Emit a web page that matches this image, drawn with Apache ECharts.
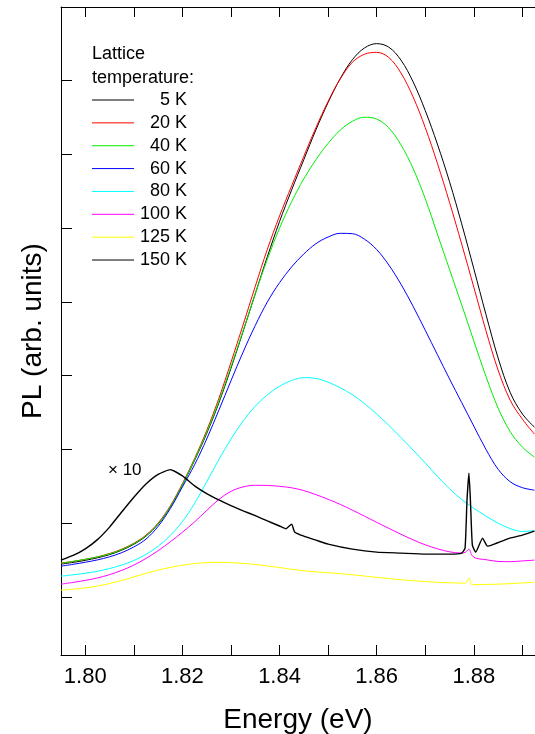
<!DOCTYPE html>
<html>
<head>
<meta charset="utf-8">
<script src="https://cdn.jsdelivr.net/npm/echarts@6/dist/echarts.min.js"></script>
<style>
  html, body { margin: 0; padding: 0; background: #ffffff; }
  #chart { width: 535px; height: 734px; }
</style>
</head>
<body>
<div id="chart"></div>
<script>
// Photoluminescence spectra at several lattice temperatures (arbitrary units)

const FONT = '"Liberation Sans", Arial, Helvetica, sans-serif';

// Shared energy grid (eV) for the 5 K - 80 K spectra, 2.5 meV steps
const energy = [1.7950, 1.7975, 1.8000, 1.8025, 1.8050, 1.8075, 1.8100, 1.8125, 1.8150, 1.8175,
                1.8200, 1.8225, 1.8250, 1.8275, 1.8300, 1.8325, 1.8350, 1.8375, 1.8400, 1.8425,
                1.8450, 1.8475, 1.8500, 1.8525, 1.8550, 1.8575, 1.8600, 1.8625, 1.8650, 1.8675,
                1.8700, 1.8725, 1.8750, 1.8775, 1.8800, 1.8825, 1.8850, 1.8875, 1.8900, 1.8925];

const pl5K  = [0.442, 0.466, 0.494, 0.528, 0.572, 0.632, 0.712, 0.822, 0.985, 1.215,
               1.515, 1.850, 2.215, 2.630, 3.100, 3.600, 4.110, 4.615, 5.090, 5.520,
               5.930, 6.335, 6.705, 7.030, 7.285, 7.445, 7.503, 7.455, 7.280, 6.985,
               6.595, 6.140, 5.630, 5.060, 4.450, 3.830, 3.240, 2.770, 2.480, 2.300];
const pl20K = [0.456, 0.480, 0.508, 0.542, 0.586, 0.646, 0.726, 0.836, 1.000, 1.232,
               1.535, 1.875, 2.255, 2.690, 3.180, 3.690, 4.210, 4.715, 5.165, 5.575,
               5.975, 6.365, 6.720, 7.025, 7.250, 7.360, 7.385, 7.315, 7.105, 6.780,
               6.365, 5.880, 5.350, 4.785, 4.200, 3.610, 3.075, 2.665, 2.410, 2.206];
const pl40K = [0.456, 0.480, 0.508, 0.540, 0.582, 0.640, 0.720, 0.828, 0.990, 1.220,
               1.520, 1.860, 2.230, 2.650, 3.120, 3.610, 4.110, 4.580, 5.000, 5.360,
               5.670, 5.930, 6.150, 6.330, 6.450, 6.505, 6.480, 6.360, 6.130, 5.810,
               5.400, 4.920, 4.440, 3.960, 3.470, 2.990, 2.560, 2.240, 2.030, 1.894];
const pl60K = [0.415, 0.440, 0.468, 0.500, 0.542, 0.598, 0.676, 0.782, 0.955, 1.195,
               1.490, 1.790, 2.140, 2.530, 2.930, 3.320, 3.680, 4.000, 4.260, 4.475,
               4.650, 4.790, 4.880, 4.930, 4.925, 4.850, 4.710, 4.500, 4.240, 3.940,
               3.615, 3.285, 2.955, 2.635, 2.315, 2.000, 1.730, 1.560, 1.480, 1.446];
const pl80K = [0.280, 0.298, 0.319, 0.346, 0.383, 0.430, 0.492, 0.575, 0.685, 0.830,
               1.020, 1.265, 1.560, 1.860, 2.140, 2.385, 2.585, 2.740, 2.855, 2.935,
               2.972, 2.962, 2.910, 2.835, 2.740, 2.620, 2.480, 2.325, 2.160, 1.990,
               1.815, 1.635, 1.465, 1.320, 1.200, 1.095, 0.998, 0.925, 0.885, 0.900];

// 100 K and 125 K: extra samples around the narrow line near 1.879 eV
const energyHi = [1.7950, 1.7975, 1.8000, 1.8025, 1.8050, 1.8075, 1.8100, 1.8125, 1.8150, 1.8175,
                  1.8200, 1.8225, 1.8250, 1.8275, 1.8300, 1.8325, 1.8350, 1.8375, 1.8400, 1.8425,
                  1.8450, 1.8475, 1.8500, 1.8525, 1.8550, 1.8575, 1.8600, 1.8625, 1.8650, 1.8675,
                  1.8700, 1.8725, 1.8750, 1.8775, 1.8783, 1.8790, 1.8796, 1.8804, 1.8825, 1.8850,
                  1.8875, 1.8900, 1.8925];
const pl100K = [0.171, 0.195, 0.222, 0.255, 0.300, 0.358, 0.430, 0.520, 0.625, 0.745,
                0.875, 1.015, 1.170, 1.320, 1.430, 1.490, 1.512, 1.510, 1.498, 1.478,
                1.440, 1.385, 1.322, 1.253, 1.175, 1.093, 1.010, 0.928, 0.848, 0.772,
                0.705, 0.650, 0.610, 0.592, 0.605, 0.646, 0.564, 0.524, 0.503, 0.479,
                0.476, 0.486, 0.497];
const pl125K = [0.090, 0.103, 0.120, 0.145, 0.180, 0.222, 0.268, 0.318, 0.362, 0.398,
                0.428, 0.450, 0.463, 0.467, 0.463, 0.453, 0.438, 0.418, 0.396, 0.373,
                0.353, 0.338, 0.326, 0.313, 0.298, 0.281, 0.264, 0.247, 0.231, 0.218,
                0.206, 0.196, 0.189, 0.185, 0.185, 0.252, 0.164, 0.164, 0.167, 0.171,
                0.178, 0.187, 0.198];

// 150 K spectrum (shown multiplied by 10)
const energy150 = [1.7950, 1.7975, 1.8000, 1.8025, 1.8050, 1.8075, 1.8100, 1.8125, 1.8150, 1.8175,
                   1.8200, 1.8225, 1.8250, 1.8275, 1.8300, 1.8325, 1.8350, 1.8375, 1.8400, 1.8413,
                   1.8425, 1.8431, 1.8450, 1.8475, 1.8500, 1.8550, 1.8600, 1.8650, 1.8700, 1.8750,
                   1.8775, 1.8782, 1.8786, 1.8790, 1.8793, 1.8797, 1.8804, 1.8818, 1.8828, 1.8837,
                   1.8874, 1.8900, 1.8925];
const pl150K = [0.497, 0.560, 0.650, 0.775, 0.945, 1.150, 1.350, 1.530, 1.660, 1.725,
                1.640, 1.505, 1.400, 1.313, 1.235, 1.165, 1.100, 1.028, 0.960, 0.922,
                0.985, 0.880, 0.822, 0.768, 0.714, 0.646, 0.605, 0.592, 0.578, 0.578,
                0.592, 0.659, 1.311, 1.677, 1.311, 0.700, 0.605, 0.795, 0.687, 0.700,
                0.795, 0.836, 0.890];

const temperatures = ['5 K', '20 K', '40 K', '60 K', '80 K', '100 K', '125 K', '150 K'];
const lineColors = ['#000000', '#ff0000', '#00ee00', '#0000ff', '#00ffff', '#ff00ff', '#ffff00', '#000000'];
const xSeries = [energy, energy, energy, energy, energy, energyHi, energyHi, energy150];
const ySeries = [pl5K, pl20K, pl40K, pl60K, pl80K, pl100K, pl125K, pl150K];

const xTickValues = [1.80, 1.81, 1.82, 1.83, 1.84, 1.85, 1.86, 1.87, 1.88, 1.89];
const xLabelValues = [1.80, 1.82, 1.84, 1.86, 1.88];
const yTickValues = [0, 1, 2, 3, 4, 5, 6, 7];

const legendTitle = ['Lattice', 'temperature:'];
const scaleNote = '\u00d7 10';

const chart = echarts.init(document.getElementById('chart'), null, { renderer: 'canvas' });

const series = temperatures.map((name, i) => ({
  name: name,
  type: 'line',
  data: xSeries[i].map((e, k) => [e, ySeries[i][k]]),
  showSymbol: false,
  smooth: i === 7 ? 0.15 : 0.35,
  lineStyle: { color: lineColors[i], width: i === 7 ? 1.4 : 1 },
  itemStyle: { color: lineColors[i] },
  emphasis: { disabled: true },
  silent: true
}));

// Legend block drawn as plain graphics
const graphics = [];
legendTitle.forEach((t, i) => {
  graphics.push({
    type: 'text', left: 92, top: 45 + i * 24,
    style: { text: t, font: '18px ' + FONT, fill: '#000' }
  });
});
temperatures.forEach((t, i) => {
  const y = 100 + i * 22.86;
  graphics.push({
    type: 'line',
    shape: { x1: 92, y1: y, x2: 134, y2: y },
    style: { stroke: lineColors[i], lineWidth: 1 }
  });
  graphics.push({
    type: 'text', x: 187, y: y,
    style: { text: t, font: '18px ' + FONT, fill: '#000', align: 'right', verticalAlign: 'middle' }
  });
});
graphics.push({
  type: 'text', x: 108, y: 470,
  style: { text: scaleNote, font: '17px ' + FONT, fill: '#000', verticalAlign: 'middle' }
});

const axisLineStyle = { color: '#000', width: 1 };

chart.setOption({
  animation: false,
  backgroundColor: '#ffffff',
  grid: { left: 61, right: 0, top: 7, bottom: 79, containLabel: false, outerBoundsMode: 'none' },
  xAxis: [
    {
      type: 'value', position: 'bottom',
      min: 1.795, max: 1.8926,
      name: 'Energy (eV)', nameLocation: 'middle', nameGap: 51,
      nameTextStyle: { fontFamily: FONT, fontSize: 28, color: '#000' },
      axisLine: { show: true, onZero: false, lineStyle: axisLineStyle },
      axisTick: { show: true, inside: true, length: 10, customValues: xTickValues, lineStyle: axisLineStyle },
      axisLabel: {
        show: true, customValues: xLabelValues, margin: 11,
        fontFamily: FONT, fontSize: 22, color: '#000',
        formatter: v => v.toFixed(2)
      },
      splitLine: { show: false }
    },
    {
      type: 'value', position: 'top',
      min: 1.795, max: 1.8926,
      axisLine: { show: true, onZero: false, lineStyle: axisLineStyle },
      axisTick: { show: true, inside: true, length: 10, customValues: xTickValues, lineStyle: axisLineStyle },
      axisLabel: { show: false },
      splitLine: { show: false }
    }
  ],
  yAxis: {
    type: 'value', min: -0.79, max: 8.0,
    name: 'PL (arb. units)', nameLocation: 'middle', nameGap: 14,
    nameTextStyle: { fontFamily: FONT, fontSize: 28, color: '#000' },
    axisLine: { show: true, onZero: false, lineStyle: axisLineStyle },
    axisTick: { show: true, inside: true, length: 11, customValues: yTickValues, lineStyle: axisLineStyle },
    axisLabel: { show: false },
    splitLine: { show: false }
  },
  series: series,
  graphic: graphics
});
</script>
</body>
</html>
